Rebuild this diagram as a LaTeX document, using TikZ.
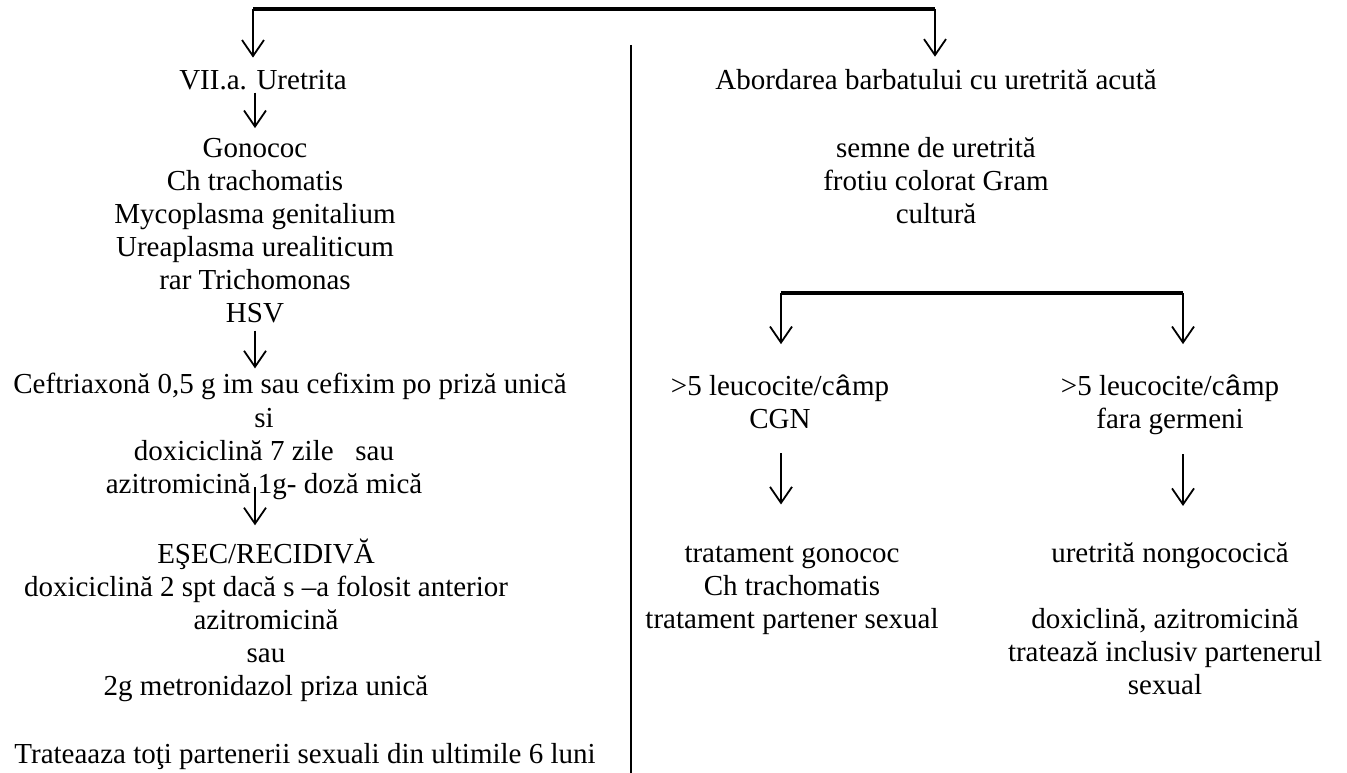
\documentclass[tikz,border=0pt]{standalone}
\usepackage{fontspec}
\setmainfont{Liberation Serif}
\newfontfamily\hatfont{Liberation Mono}
\usepackage{tikz}
\usetikzlibrary{positioning}
\usetikzlibrary{arrows.meta}
\newcommand*{\campword}{c{\hatfont â}mp}

\begin{document}
\begin{tikzpicture}[x=1pt, y=-1pt,
 txt/.style = {inner sep=0pt, anchor=base, align=center,
 font=\fontsize{29}{33}\selectfont},
 arr/.style = {line width=1.8pt, -{Straight Barb[length=16pt,width=22pt]}},
 bar/.style = {line width=4pt},
 divider/.style = {line width=2pt}]
\useasboundingbox (0,0) rectangle (1347,773);

\node[txt] (uretrita) at (263,90) {VII.a. Uretrita};
\node[txt] (agenti) at (255,322) {Gonococ\\Ch trachomatis\\Mycoplasma genitalium\\Ureaplasma urealiticum\\rar Trichomonas\\HSV};
\node[txt] (ceftriax) at (290,393) {Ceftriaxonă 0,5 g im sau cefixim po priză unică};
\node[txt] (doxi) at (264,493) {si\\doxiciclină 7 zile \ \ sau\\azitromicină 1g- doză mică};
\node[txt] (esec) at (266,695) {EŞEC/RECIDIVĂ\\doxiciclină 2 spt dacă s –a folosit anterior\\azitromicină\\sau\\2g metronidazol priza unică};
\node[txt] (parteneri) at (305,763) {Trateaaza toţi partenerii sexuali din ultimile 6 luni};

\node[txt] (abordare) at (936,90) {Abordarea barbatului cu uretrită acută};
\node[txt] (semne) at (936,223) {semne de uretrită\\frotiu colorat Gram\\cultură};
\node[txt] (cgn) at (780,428) {>5 leucocite/\campword\\CGN};
\node[txt] (fara) at (1170,428) {>5 leucocite/\campword\\fara germeni};
\node[txt] (tratgono) at (792,628) {tratament gonococ\\Ch trachomatis\\tratament partener sexual};
\node[txt] (nongono) at (1170,562) {uretrită nongococică};
\node[txt] (doxiazi) at (1165,694) {doxiclină, azitromicină\\tratează inclusiv partenerul\\sexual};

\coordinate (brL) at (253,9);
\coordinate (brR) at (935,9);
\coordinate (br2L) at (781,293);
\coordinate (br2R) at (1183,293);

\draw[divider] (631,45) -- (631,773);

\draw[bar] (brL) -- (brR);
\draw[arr, shorten >=13pt] (brL) -- (uretrita.north -| brL);
\draw[arr, shorten >=13pt] (brR) -- (abordare.north -| brR);

\draw[arr, shorten <=2pt, shorten >=9.5pt] (uretrita.south -| agenti.north) -- (agenti.north);
\draw[arr, shorten <=8pt, shorten >=4pt] (agenti.south) -- (ceftriax.north -| agenti.south);
\draw[arr, shorten <=-12pt, shorten >=13pt] (doxi.south -| agenti.south) -- (esec.north -| agenti.south);

\draw[bar] (br2L) -- (br2R);
\draw[arr, shorten >=30pt] (br2L) -- (cgn.north -| br2L);
\draw[arr, shorten >=30pt] (br2R) -- (fara.north -| br2R);
\draw[arr, shorten <=25pt, shorten >=41pt] (cgn.south -| br2L) -- (tratgono.north -| br2L);
\draw[arr, shorten <=20pt, shorten >=36pt] (fara.south -| br2R) -- (nongono.north -| br2R);
\end{tikzpicture}
\end{document}
